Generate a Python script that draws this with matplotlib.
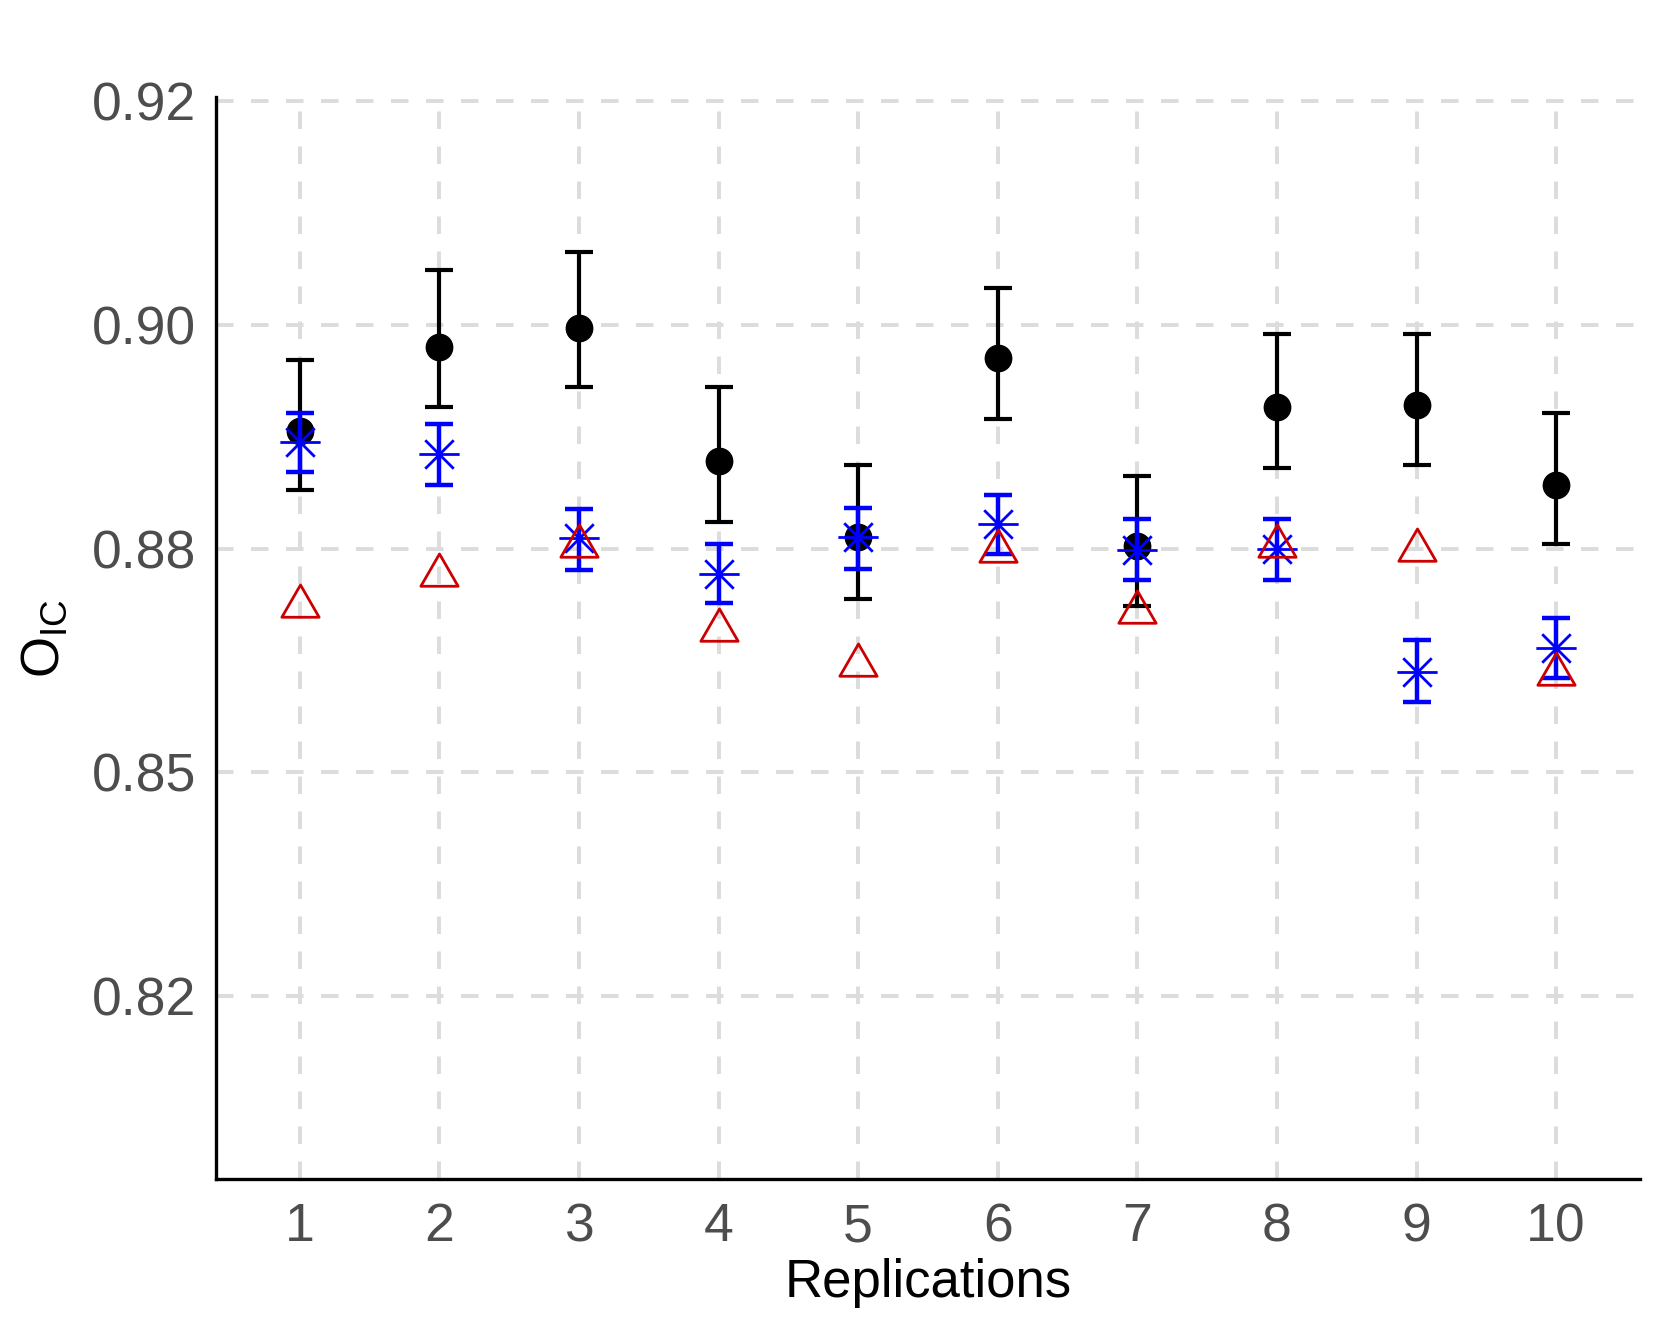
import numpy as np
import matplotlib
matplotlib.use("Agg")
import matplotlib.pyplot as plt
from matplotlib.path import Path

plt.rcParams['font.family'] = ['Liberation Sans', 'DejaVu Sans']

# values (axis positions, labels as printed)
reps = [1, 2, 3, 4, 5, 6, 7, 8, 9, 10]

black_mean = [0.8905, 0.8980, 0.8997, 0.8878, 0.8810, 0.8970, 0.8802, 0.8926, 0.8928, 0.8857]
black_lo = [0.8852, 0.8926, 0.8944, 0.8824, 0.8755, 0.8916, 0.8749, 0.8872, 0.8875, 0.8804]
black_hi = [0.8968, 0.9049, 0.9065, 0.8944, 0.8875, 0.9033, 0.8865, 0.8992, 0.8992, 0.8921]

blue_mean = [0.8895, 0.8884, 0.8809, 0.8777, 0.8810, 0.8822, 0.8799, 0.8800, 0.8690, 0.8711]
blue_lo = [0.8868, 0.8857, 0.8781, 0.8751, 0.8782, 0.8795, 0.8772, 0.8772, 0.8663, 0.8684]
blue_hi = [0.8921, 0.8911, 0.8835, 0.8804, 0.8836, 0.8848, 0.8826, 0.8826, 0.8718, 0.8738]

red_vals = [0.8749, 0.8776, 0.8802, 0.8727, 0.8696, 0.8798, 0.8743, 0.8802, 0.8799, 0.8688]

ytick_pos = [0.84, 0.86, 0.88, 0.90, 0.92]
ytick_labels = ['0.82', '0.85', '0.88', '0.90', '0.92']

# markers: asterisk (plus + x) and equilateral triangle
d = np.sqrt(0.5)
star = Path([(-1, 0), (1, 0), (0, -1), (0, 1), (-d, -d), (d, d), (-d, d), (d, -d)],
            [Path.MOVETO, Path.LINETO] * 4)
tri = Path([(0, 1), (-0.866, -0.5), (0.866, -0.5), (0, 1)], closed=True)

fig = plt.figure(figsize=(16.61, 13.32), dpi=100)
ax = fig.add_axes([0.130, 0.115, 0.8573, 0.8119])

grid_kw = dict(color='#dcdcdc', lw=2.8, ls=(0, (4.5, 4.5)), zorder=0)
for y in ytick_pos:
    ax.axhline(y, **grid_kw)
for x in reps:
    ax.axvline(x, **grid_kw)

bm = np.array(black_mean)
ax.errorbar(reps, bm, yerr=[bm - np.array(black_lo), np.array(black_hi) - bm],
            fmt='none', ecolor='black', elinewidth=3.0, capsize=10, capthick=3.0, zorder=2)
ax.plot(reps, bm, 'o', color='black', ms=19, zorder=3)

um = np.array(blue_mean)
ax.errorbar(reps, um, yerr=[um - np.array(blue_lo), np.array(blue_hi) - um],
            fmt='none', ecolor='#0000ff', elinewidth=3.2, capsize=10, capthick=3.2, zorder=4)
ax.plot(reps, um, ls='none', marker=star, ms=29, mec='#0000ff', mfc='none', mew=2.0, zorder=5)

ax.plot(reps, red_vals, ls='none', marker=tri, ms=31, mec='#cc0000', mfc='none', mew=2.0, zorder=6)

ax.set_xlim(0.4, 10.6)
ax.set_ylim(0.8237, 0.9203)
ax.set_xticks(reps)
ax.set_yticks(ytick_pos)
ax.set_yticklabels(ytick_labels)
ax.tick_params(length=0, labelsize=38.5, labelcolor='#4d4d4d')
ax.tick_params(axis='x', pad=17)
ax.tick_params(axis='y', pad=14)

for s in ['top', 'right']:
    ax.spines[s].set_visible(False)
for s in ['left', 'bottom']:
    ax.spines[s].set_linewidth(2.4)
    ax.spines[s].set_color('black')

ax.set_xlabel('Replications', fontsize=38, labelpad=4)
ax.set_ylabel(r'$\mathregular{O_{IC}}$', fontsize=38, labelpad=16)

fig.savefig('out.png', dpi=100)
